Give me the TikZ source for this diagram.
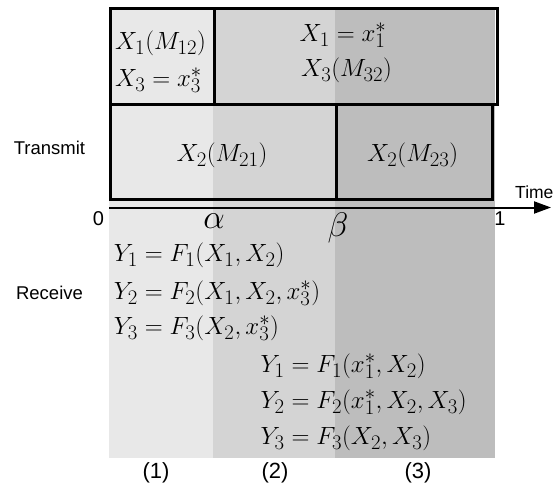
\documentclass[tikz,border=0pt]{standalone}
\usepackage{fontspec}
\newfontfamily\sansfam{Liberation Sans}
\usetikzlibrary{arrows.meta}
\definecolor{bandA}{HTML}{E8E8E8}
\definecolor{bandB}{HTML}{D4D4D4}
\definecolor{bandC}{HTML}{BDBDBD}
\begin{document}
\begin{tikzpicture}[x=1pt,y=-1pt,
  boxnode/.style={draw=black,line width=3pt,inner sep=0pt,anchor=north west},
  mtxt/.style={inner sep=0pt,font=\fontsize{24.88}{30}\selectfont,text height=18.7pt,text depth=6.2pt},
  eqn/.style={mtxt,anchor=west},
  greek/.style={inner sep=0pt,font=\fontsize{24.88}{30}\selectfont},
  stxt/.style={inner sep=0pt,font=\sansfam\fontsize{18.5}{22}\selectfont},
  ptxt/.style={inner sep=0pt,font=\sansfam\fontsize{22}{26}\selectfont}]
\useasboundingbox (0,0) rectangle (553,489);
% background bands
\fill[bandA] (108.6,7.3) rectangle (212.7,458);
\fill[bandB] (212.7,7.3) rectangle (335,458);
\fill[bandC] (335,7.3) rectangle (495,458);
% boxes
\node[boxnode,minimum width=104.1pt,minimum height=96pt] (A) at (108.6,7.3) {};
\node[boxnode,minimum width=282.9pt,minimum height=96pt] (B) at (212.7,7.3) {};
\node[boxnode,minimum width=226.4pt,minimum height=94.4pt] (C) at (108.6,103.3) {};
\node[boxnode,minimum width=156pt,minimum height=94.4pt] (D) at (335,103.3) {};
% box texts
\node[mtxt] (a1) at (160.5,43) {$X_1(M_{12})$};
\node[mtxt] (a2) at (158.5,80) {$X_3=x_3^*$};
\node[mtxt] (b1) at (343,35) {$X_1=x_1^*$};
\node[mtxt] (b2) at (346.5,70) {$X_3(M_{32})$};
\node[mtxt] (c1) at (222,155) {$X_2(M_{21})$};
\node[mtxt] (d1) at (412.7,155) {$X_2(M_{23})$};
% axis
\coordinate (t0) at (109,207.5);
\coordinate (t1) at (551,207.5);
\draw[line width=2pt,-{Triangle[length=17pt,width=12pt]}] (t0) -- (t1);
\node[stxt,anchor=west,font=\sansfam\fontsize{17.5}{21}\selectfont] (time) at (515,192) {Time};
\node[stxt,font=\sansfam\fontsize{20}{24}\selectfont] (zero) at (98.5,219) {0};
\node[stxt,font=\sansfam\fontsize{20}{24}\selectfont] (one) at (500,219) {1};
\node[greek] (alpha) at (214,221) {\scalebox{1.37}{$\alpha$}};
\node[greek] (beta) at (338,228) {\scalebox{1.37}{$\beta$}};
% side labels
\node[stxt] (tx) at (49.5,148) {Transmit};
\node[stxt] (rx) at (49.5,293) {Receive};
% equations
\node[eqn] (e1) at (113.6,255) {$Y_1=F_1(X_1,X_2)$};
\node[eqn] (e2) at (113.6,293) {$Y_2=F_2(X_1,X_2,x_3^*)$};
\node[eqn] (e3) at (113.6,328) {$Y_3=F_3(X_2,x_3^*)$};
\node[eqn] (e4) at (260.3,366) {$Y_1=F_1(x_1^*,X_2)$};
\node[eqn] (e5) at (260.3,402) {$Y_2=F_2(x_1^*,X_2,X_3)$};
\node[eqn] (e6) at (260.3,438) {$Y_3=F_3(X_2,X_3)$};
% phase labels
\node[ptxt] (p1) at (156,473) {(1)};
\node[ptxt] (p2) at (275,473) {(2)};
\node[ptxt] (p3) at (418,473) {(3)};
\end{tikzpicture}
\end{document}
